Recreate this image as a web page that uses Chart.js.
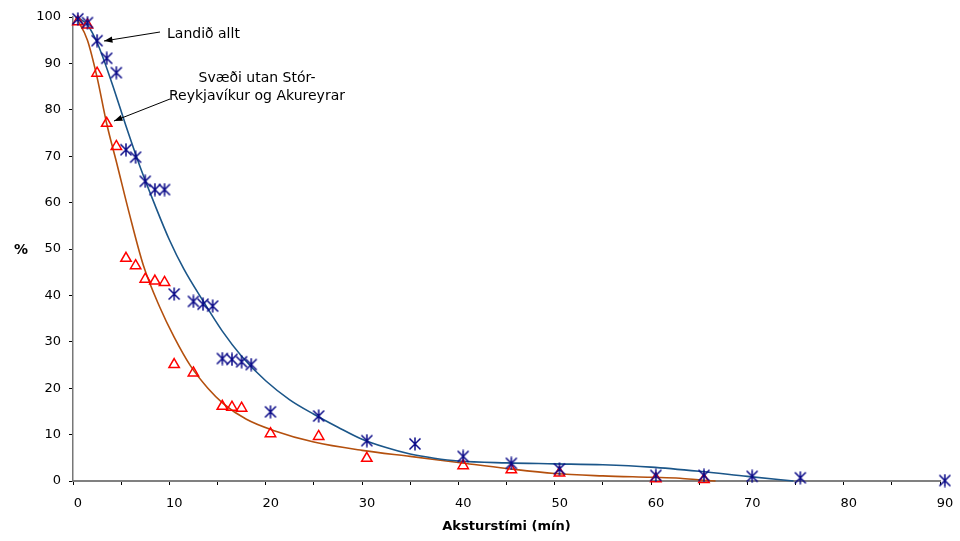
<!DOCTYPE html>
<html>
<head>
<meta charset="utf-8">
<script src="https://cdn.jsdelivr.net/npm/chart.js@4/dist/chart.umd.min.js"></script>
<style>
  body { margin: 0; background: #fff; }
  canvas { display: block; }
</style>
</head>
<body>
<canvas id="chart" width="960" height="541"></canvas>
<script>
// Landið allt (stars)
const allX = [0.5, 1.5, 2.5, 3.5, 4.5, 5.5, 6.5, 7.5, 8.5, 9.5, 10.5, 12.5, 13.5, 14.5, 15.5, 16.5, 17.5, 18.5, 20.5, 25.5, 30.5, 35.5, 40.5, 45.5, 50.5, 60.5, 65.5, 70.5, 75.5, 90.5];
const allY = [99.6, 98.8, 94.9, 91.1, 88.0, 71.4, 69.8, 64.6, 62.8, 62.8, 40.3, 38.7, 38.1, 37.7, 26.4, 26.2, 25.7, 25.1, 14.9, 14.0, 8.7, 8.0, 5.3, 3.8, 2.6, 1.2, 1.2, 1.0, 0.7, 0.1];

// Svæði utan Stór-Reykjavíkur og Akureyrar (triangles)
const ruralX = [0.5, 1.5, 2.5, 3.5, 4.5, 5.5, 6.5, 7.5, 8.5, 9.5, 10.5, 12.5, 15.5, 16.5, 17.5, 20.5, 25.5, 30.5, 40.5, 45.5, 50.5, 60.5, 65.5];
const ruralY = [99.0, 98.3, 87.9, 77.1, 72.1, 48.0, 46.4, 43.5, 43.1, 42.8, 25.1, 23.3, 16.1, 15.9, 15.7, 10.2, 9.6, 4.9, 3.3, 2.4, 1.7, 0.5, 0.3];

// trend lines
const allTrendX = [0.4, 1.5, 2.5, 4, 5.5, 7, 8.5, 10, 11.5, 13.5, 15.5, 17.5, 20, 22.5, 25, 27.5, 30, 32.5, 35, 37.5, 40, 45, 50, 55, 60, 65, 70, 74.8];
const allTrendY = [100, 98.3, 94.5, 86, 76.5, 67.5, 59.5, 52, 45.7, 38.8, 32.3, 26.9, 21.6, 17.5, 14.4, 11.6, 9.0, 7.2, 5.8, 4.9, 4.3, 3.9, 3.7, 3.5, 3.0, 2.1, 1.0, 0];
const ruralTrendX = [0.3, 1.5, 2.5, 3.5, 4.6, 5.8, 7.3, 9, 10.5, 12.2, 14, 15.6, 18, 20.8, 25, 30, 35, 40, 45, 50, 55, 60, 63, 65.4, 66.7];
const ruralTrendY = [100, 95, 87, 77, 68, 58, 46.5, 37.5, 31, 24.8, 20, 16.7, 13.3, 10.9, 8.4, 6.6, 5.3, 4.0, 2.7, 1.6, 1.1, 0.8, 0.6, 0.15, 0];

const xTickValues = [0, 5, 10, 15, 20, 25, 30, 35, 40, 45, 50, 55, 60, 65, 70, 75, 80, 85, 90];
const xTickLabels = ['0', '', '10', '', '20', '', '30', '', '40', '', '50', '', '60', '', '70', '', '80', '', '90'];
const yTickValues = [0, 10, 20, 30, 40, 50, 60, 70, 80, 90, 100];

const FONT = "'DejaVu Sans', 'Liberation Sans', Arial, sans-serif";

function pts(xs, ys) {
    return xs.map((x, i) => ({ x: x, y: ys[i] }));
}

function makeStar(color) {
    const c = document.createElement('canvas');
    c.width = 14; c.height = 14;
    const g = c.getContext('2d');
    g.strokeStyle = color;
    g.lineWidth = 1.5;
    g.beginPath();
    g.moveTo(1.5, 1.5); g.lineTo(12.5, 12.5);
    g.moveTo(12.5, 1.5); g.lineTo(1.5, 12.5);
    g.moveTo(7, 0.5); g.lineTo(7, 13.5);
    g.stroke();
    return c;
}

function arrow(ctx, x1, y1, x2, y2) {
    const a = Math.atan2(y2 - y1, x2 - x1);
    ctx.beginPath();
    ctx.moveTo(x1, y1);
    ctx.lineTo(x2, y2);
    ctx.stroke();
    ctx.beginPath();
    ctx.moveTo(x2, y2);
    ctx.lineTo(x2 - 9 * Math.cos(a - 0.35), y2 - 9 * Math.sin(a - 0.35));
    ctx.lineTo(x2 - 9 * Math.cos(a + 0.35), y2 - 9 * Math.sin(a + 0.35));
    ctx.closePath();
    ctx.fill();
}

const notes = {
    id: 'notes',
    afterDraw(chart) {
        const ctx = chart.ctx;
        ctx.save();
        ctx.fillStyle = '#000';
        ctx.strokeStyle = '#000';
        ctx.lineWidth = 1;
        ctx.textBaseline = 'middle';

        ctx.font = 'bold 14px ' + FONT;
        ctx.textAlign = 'center';
        ctx.fillText('%', 21, 250);

        ctx.font = '14px ' + FONT;
        ctx.textAlign = 'left';
        ctx.fillText('Landið allt', 167, 34);
        ctx.textAlign = 'center';
        ctx.fillText('Svæði utan Stór-', 257, 78);
        ctx.fillText('Reykjavíkur og Akureyrar', 257, 96);

        arrow(ctx, 160, 32, 104, 41);
        arrow(ctx, 170, 99, 114, 121);
        ctx.restore();
    }
};

new Chart(document.getElementById('chart'), {
    type: 'scatter',
    data: {
        datasets: [
            {
                label: 'Landið allt',
                data: pts(allX, allY),
                pointStyle: makeStar('#0a0a88'),
                pointRadius: 7,
                showLine: false,
                clip: false,
                order: 1
            },
            {
                label: 'Svæði utan Stór-Reykjavíkur og Akureyrar',
                data: pts(ruralX, ruralY),
                pointStyle: 'triangle',
                pointRadius: 6,
                pointBorderColor: '#ff0000',
                pointBackgroundColor: 'rgba(0,0,0,0)',
                pointBorderWidth: 1.5,
                showLine: false,
                clip: false,
                order: 2
            },
            {
                data: pts(allTrendX, allTrendY),
                showLine: true,
                borderColor: '#1b5689',
                borderWidth: 1.6,
                pointRadius: 0,
                cubicInterpolationMode: 'monotone',
                clip: false,
                order: 3
            },
            {
                data: pts(ruralTrendX, ruralTrendY),
                showLine: true,
                borderColor: '#b4500e',
                borderWidth: 1.6,
                pointRadius: 0,
                cubicInterpolationMode: 'monotone',
                clip: false,
                order: 4
            }
        ]
    },
    options: {
        responsive: false,
        animation: false,
        layout: { padding: { top: 17, right: 20, left: 0, bottom: 0 } },
        plugins: {
            legend: { display: false },
            tooltip: { enabled: false }
        },
        scales: {
            x: {
                type: 'linear',
                min: 0,
                max: 90,
                afterBuildTicks: s => { s.ticks = xTickValues.map(v => ({ value: v })); },
                afterFit: s => { s.height = 60; },
                ticks: {
                    autoSkip: false,
                    maxRotation: 0,
                    padding: 11,
                    labelOffset: 5,
                    color: '#000',
                    font: { family: FONT, size: 13 },
                    callback: (v, i) => xTickLabels[i]
                },
                grid: { drawOnChartArea: false, drawTicks: true, tickLength: 4, color: '#000' },
                border: { color: '#808080', width: 2 },
                title: {
                    display: true,
                    text: 'Aksturstími (mín)',
                    color: '#000',
                    font: { family: FONT, size: 13, weight: 'bold' },
                    padding: { top: 0, bottom: 7 }
                }
            },
            y: {
                min: 0,
                max: 100,
                afterBuildTicks: s => { s.ticks = yTickValues.map(v => ({ value: v })); },
                afterFit: s => { s.width = 73; },
                ticks: {
                    padding: 8,
                    color: '#000',
                    font: { family: FONT, size: 13 }
                },
                grid: { drawOnChartArea: false, drawTicks: true, tickLength: 4, color: '#000' },
                border: { color: '#777', width: 1.5 }
            }
        }
    },
    plugins: [notes]
});
</script>
</body>
</html>
